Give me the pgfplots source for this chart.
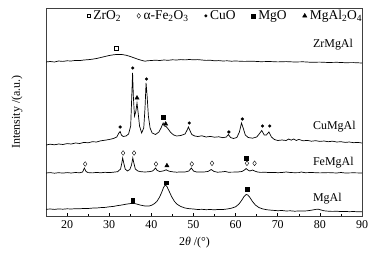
\documentclass[border=0pt]{standalone}
\usepackage{fontspec}
\setmainfont{Liberation Serif}
\usepackage{pgfplots}
\pgfplotsset{compat=1.18}
\newcommand{\lf}{\fontsize{12}{14}\selectfont}
\newcommand{\legf}{\fontsize{13.5}{15}\selectfont}
\begin{document}
\fontsize{12}{14}\selectfont
\begin{tikzpicture}
\begin{axis}[
  scale only axis, width=316bp, height=208bp,
  xmin=15, xmax=90, ymin=0, ymax=208,
  xtick={20,30,...,90}, minor xtick={15,25,...,85},
  ytick=\empty,
  tick align=inside, xtick pos=bottom,
  major tick length=3pt, minor tick length=2pt,
  axis line style={black!75, line width=0.6pt},
  tick style={black, line width=0.5pt},
  /pgf/number format/assume math mode=true,
  tick label style={font=\lf},
  xlabel={2\textit{θ} /(°)}, ylabel={Intensity /(a.u.)},
  label style={font=\lf},
  xlabel style={at={(axis description cs:0.47,-0.13)}, anchor=center},
  ylabel style={at={(axis description cs:-0.092,0.5)}, anchor=center},
  legend columns=5,
  legend style={draw=none, fill=none, at={(axis description cs:0.568,0.962)}, anchor=center,
    font=\legf, column sep=1pt,
    /tikz/every even column/.style={column sep=14pt}},
  legend image code/.code={\draw[mark repeat=2,mark phase=2,#1] plot coordinates {(0cm,0cm)(0.1cm,0cm)(0.2cm,0cm)};},
  every axis plot/.append style={black},
]
\addlegendimage{only marks, mark=square, mark size=1.8pt, mark options={line width=0.4pt}}
\addlegendentry{ZrO\textsubscript{2}}
\addlegendimage{only marks, mark=diamond, mark size=2.4pt, mark options={line width=0.4pt}}
\addlegendentry{α-Fe\textsubscript{2}O\textsubscript{3}}
\addlegendimage{only marks, mark=*, mark size=1.3pt}
\addlegendentry{CuO}
\addlegendimage{only marks, mark=square*, mark size=1.9pt}
\addlegendentry{MgO}
\addlegendimage{only marks, mark=triangle*, mark size=2.5pt}
\addlegendentry{MgAl\textsubscript{2}O\textsubscript{4}}

% ZrMgAl
\addplot[line width=0.7pt, forget plot] coordinates {
(15,154)(16,154.5)(17,154)(18,155)(19,154.6)(20,155.2)(21,155)(22,155.6)(23,155.4)(24,156)(25,156.3)(26,156.8)(27,157.5)(28,158.5)(29,159.5)(30,160.5)(31,161.2)(32,161.6)(33,161.5)(34,160.8)(35,159.5)(36,158)(37,156.5)(38,155.3)(38.5,154.8)(39,155.2)(40,155.5)(41,155.8)(42,155.5)(43,156)(44,155.7)(45,156.2)(46,156)(47,156.4)(48,156.1)(49,156.5)(50,156.2)(51,156.4)(52,156)(53,155.6)(54,155.8)(55,155.2)(56,155.4)(57,155)(58,155.2)(59,154.8)(60,155)(62,154.6)(64,154.8)(66,154.3)(68,154.5)(70,154.1)(72,154.4)(74,154)(76,154.2)(78,153.7)(80,153.9)(82,153.5)(84,153.7)(86,153.3)(88,153.4)(90,153)};
% CuMgAl
\addplot[line width=0.7pt, forget plot] coordinates {
(15,71)(16,71.8)(17,71.2)(18,72)(19,71.5)(20,72.4)(21,72)(22,73)(23,72.5)(24,73.6)(25,73.2)(26,74.3)(27,74)(28,75.2)(29,75.8)(30,76.5)(31,77.5)(31.8,79)(32.3,83)(32.6,84.5)(32.9,81)(33.3,79.5)(34,80)(34.6,82)(35.1,90)(35.4,125)(35.55,143)(35.75,118)(36,100)(36.3,104)(36.6,113)(36.85,104)(37.2,90)(37.7,83)(38.2,88)(38.5,108)(38.75,133)(39.0,120)(39.3,100)(39.7,88)(40.2,83)(41,81.5)(41.8,84)(42.3,88)(42.8,93)(43.1,90)(43.5,89.5)(44,87)(44.6,83.5)(45.3,81)(46,80)(47,80.5)(48,82)(48.5,86)(48.8,89)(49.1,86)(49.6,81.5)(50.3,80)(51,79.5)(52,80.2)(53,79)(54,79.6)(55,78.8)(56,79.2)(57,78.3)(57.8,79)(58.3,81.5)(58.8,78.5)(59.5,77.5)(60.3,78.5)(60.9,84)(61.4,93)(61.8,88)(62.3,81)(63,78.5)(64,77.8)(65,79)(65.6,82)(66.2,85.5)(66.8,81)(67.3,81)(67.9,84)(68.5,79)(69.2,76.5)(70,75.5)(71,76)(72,75.5)(72.6,77)(73.2,75.8)(73.8,77)(74.4,75.5)(75,76.6)(76,75.2)(77,75.6)(78,74.8)(79,75.3)(80,74.6)(81,75)(82,74.3)(83,74.8)(84,74)(85,74.3)(86,73.6)(87,74)(88,73.3)(89,73.6)(90,73)};
% FeMgAl
\addplot[line width=0.7pt, forget plot] coordinates {
(15,43)(16,43.4)(17,42.8)(18,43.3)(19,42.9)(20,43.4)(21,43)(22,43.5)(23,43.2)(23.7,44)(24.1,48)(24.5,44.5)(25,43.4)(26,43.1)(27,43.6)(28,43.2)(29,43.7)(30,43.4)(31,43.8)(32,44.3)(32.7,47)(33.0,53)(33.2,58)(33.45,53)(33.8,47)(34.3,45)(34.9,46.5)(35.3,51)(35.6,58)(35.85,53)(36.2,47)(36.8,45)(37.5,44.3)(38.5,44)(39.5,44.3)(40.3,45)(40.7,46.5)(41,48)(41.4,45.5)(42,44.5)(42.8,45)(43.5,46.2)(44.2,44.8)(45,44.2)(46,43.8)(47,44.1)(48,44)(48.9,45)(49.5,48)(50,45)(50.7,44)(51.5,43.9)(52.5,44)(53.5,44.6)(54.2,46.5)(54.9,44.5)(55.7,43.8)(56.5,44)(57.5,44.5)(58.3,43.8)(59.5,43.9)(60.5,44)(61.5,44.5)(62.1,46)(62.5,47.5)(62.9,46)(63.4,45)(64,46)(64.5,45)(65.2,44)(66,43.6)(67,43.8)(68,43.4)(69,43.6)(70,43.3)(71,43.5)(72,44)(73,43.5)(74,43.3)(75,43.4)(75.6,44)(76.5,43.3)(78,43.5)(80,43.1)(82,43.4)(84,43)(85,43.5)(86,43)(88,43.2)(90,43)};
% MgAl
\addplot[line width=0.7pt, forget plot] coordinates {
(15,6.7)(16,7)(17,6.6)(18,7.1)(19,6.8)(20,7.2)(21,7)(22,7.3)(23,7.2)(24,7.6)(25,7.5)(26,7.9)(27,8)(28,8.4)(29,8.6)(30,9.2)(31,9.6)(32,10.4)(33,11)(34,11.8)(35,12.4)(35.8,12.6)(36.5,12)(37.5,10.8)(38.5,10)(39.5,10)(40.2,11)(40.7,12.3)(41.3,14.5)(41.9,18.5)(42.4,23)(42.9,28.5)(43.3,31)(43.7,29.5)(44.2,25)(44.8,19.5)(45.5,14.5)(46.2,11.5)(47,9.5)(48,8)(49,7.3)(50,7)(51,6.5)(52,6.7)(53,6.3)(54,6.5)(55,6.2)(56,6.6)(57,6.5)(58,7)(59,7.8)(60,9.2)(60.8,12)(61.5,16)(62,19.5)(62.5,21.5)(62.9,21)(63.4,18.5)(64,14.5)(64.7,11)(65.5,8.5)(66.5,7)(67.5,6.2)(68.5,5.8)(70,5.3)(71,5.5)(72,5)(73,5.2)(74,4.8)(75,5)(76,4.9)(77,5.2)(78,5.8)(79,6.6)(79.6,6.8)(80.3,6)(81,5.2)(82,4.8)(83,4.6)(84,4.8)(85,4.4)(86,4.6)(87,4.3)(88,4.5)(89,4.2)(90,4.3)};

% markers
\addplot[only marks, mark=square, mark size=1.8pt, mark options={line width=0.4pt, fill=white}, forget plot] coordinates {(31.6,168)};
\addplot[only marks, mark=*, mark size=1.4pt, forget plot] coordinates {(32.6,89)(35.6,148)(38.85,137)(49.0,93)(58.4,84)(61.6,97)(66.4,90)(68.1,90)};
\addplot[only marks, mark=triangle*, mark size=2.5pt, forget plot] coordinates {(36.6,118)(43.4,92)(43.7,50.3)};
\addplot[only marks, mark=square*, mark size=1.9pt, forget plot] coordinates {(42.8,99)(62.5,57.7)(35.6,16)(43.5,33.3)(62.8,27)};
\addplot[only marks, mark=diamond, mark size=2.4pt, mark options={line width=0.4pt, fill=white}, forget plot] coordinates {(24.3,52)(33.3,63)(35.9,63)(41.1,52)(49.6,52)(54.4,52.7)(62.7,52.7)(64.5,52.7)};

\node[anchor=west] at (axis cs:77.4,171) {ZrMgAl};
\node[anchor=west] at (axis cs:77.4,89) {CuMgAl};
\node[anchor=west] at (axis cs:77.4,53) {FeMgAl};
\node[anchor=west] at (axis cs:77.4,17) {MgAl};
\end{axis}
\path ([shift={(-46bp,-42bp)}]current axis.south west) rectangle ([shift={(22bp,8bp)}]current axis.north east);
\end{tikzpicture}
\end{document}
